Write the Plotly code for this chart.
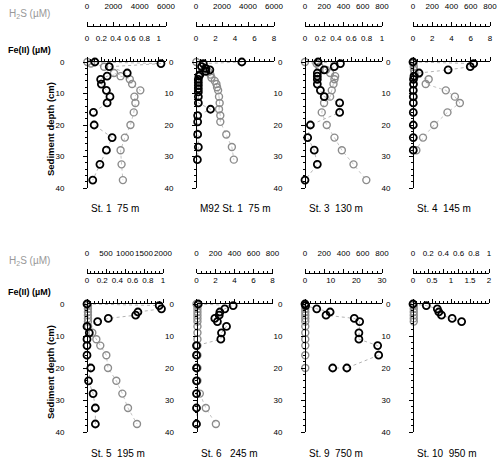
import numpy as np
import plotly.graph_objs as go

# ---- data (depth in cm, concentrations in uM) ----

# St. 1  75 m
st1_fe_depth = [0, 0.5, 1.5, 3.5, 4.5, 5.5, 7, 9, 11, 13, 16, 20, 24, 28, 32.5, 37.5]
st1_fe = [0.11, 1.03, 0.31, 0.56, 0.28, 0.19, 0.20, 0.27, 0.32, 0.28, 0.09, 0.10, 0.35, 0.27, 0.18, 0.08]
st1_h2s_depth = [0, 0.5, 1.5, 3.5, 4.5, 5.5, 7, 9, 11, 13, 16, 20, 24, 28, 32.5, 37.5]
st1_h2s = [30, 300, 1300, 2050, 2550, 3250, 3425, 4050, 3600, 3675, 3550, 3300, 2875, 2550, 2625, 2725]

# M92 St. 1  75 m
m92_fe_depth = [0, 0.5, 1.5, 2, 2.5, 3, 4, 4.5, 5.5, 6.5, 7.5, 8.5, 9.5, 11, 13, 15, 17, 19, 23, 27, 31]
m92_fe = [4.7, 0.75, 0.57, 1.0, 1.42, 1.0, 0.4, 0.3, 0.24, 0.24, 0.24, 0.24, 0.24, 0.24, 0.24, 1.49, 0.17, 0.17, 0.17, 0.24, 0.14]
m92_h2s_depth = [0, 1, 2, 3, 4, 5, 6, 7, 8, 9, 11, 13, 15, 17, 19, 23, 27, 31]
m92_h2s = [30, 300, 680, 940, 1110, 1190, 1440, 1570, 1620, 1700, 1770, 1820, 1770, 1870, 1870, 2330, 2760, 2910]

# St. 3  130 m
st3_fe_depth = [0, 0.5, 1.5, 2.5, 3.5, 4.5, 5.5, 7, 9, 11, 13, 16, 20, 24, 28, 32.5, 37.5]
st3_fe = [0.17, 0.46, 0.38, 0.25, 0.16, 0.16, 0.16, 0.16, 0.20, 0.25, 0.45, 0.45, 0.07, 0.035, 0.12, 0.16, 0.0]
st3_h2s_depth = [0, 0.5, 1.5, 2.5, 3.5, 4.5, 5.5, 7, 9, 11, 13, 16, 20, 24, 28, 32.5, 37.5]
st3_h2s = [0, 120, 150, 220, 261, 313, 306, 296, 278, 261, 198, 174, 226, 306, 383, 504, 637]

# St. 4  145 m
st4_fe_depth = [0, 0.5, 1.5, 2.5, 3.5, 4.5, 5.5, 7, 9, 11, 13, 16, 20, 24, 28]
st4_fe = [0, 6.3, 5.95, 3.65, 0.63, 0.1, 0.05, 0.05, 0.03, 0.03, 0.03, 0.03, 0.03, 0.03, 0.03]
st4_h2s_depth = [0, 0.5, 1.5, 2.5, 3.5, 4.5, 5.5, 7, 9, 11, 13, 16, 20, 24, 28]
st4_h2s = [0, 5, 8, 10, 15, 20, 163, 132, 341, 435, 487, 358, 219, 104, 35]

# St. 5  195 m
st5_fe_depth = [0, 0.5, 1.5, 2.5, 3.5, 4.5, 5.5, 7, 9, 11, 13, 16, 20, 24, 28, 32.5, 37.5]
st5_fe = [0, 0.95, 0.98, 0.67, 0.64, 0.28, 0.14, 0.0, 0.03, 0.0, 0.0, 0.0, 0.05, 0.02, 0.08, 0.11, 0.11]
st5_h2s_depth = [0, 0.5, 1.5, 2.5, 3.5, 4.5, 5.5, 7, 9, 11, 13, 16, 20, 24, 28, 32.5, 37.5]
st5_h2s = [0, 25, 25, 25, 25, 25, 25, 30, 140, 246, 350, 509, 553, 772, 930, 1079, 1316]

# St. 6  245 m
st6_fe_depth = [0, 0.5, 1.5, 2.5, 3.5, 4.5, 5.5, 7, 9, 11, 13, 16, 20, 24, 28, 32.5, 37.5]
st6_fe = [0.18, 3.86, 2.98, 2.46, 2.39, 1.93, 2.2, 3.16, 2.63, 2.56, 0.0, 0.0, 0.0, 0.0, 0.0, 0.0, 0.0]
st6_h2s_depth = [0, 0.5, 1.5, 2.5, 3.5, 4.5, 5.5, 7, 9, 11, 13, 16, 20, 24, 28, 32.5, 37.5]
st6_h2s = [0, 10, 10, 10, 10, 10, 10, 10, 10, 10, 10, 10, 10, 10, 35, 98, 204]

# St. 9  750 m
st9_fe_depth = [0, 0.5, 1.5, 2.5, 3.5, 4.5, 5.5, 9, 11, 13, 16, 20, 20]
st9_fe = [0, 0.26, 4.57, 9.78, 8.2, 19.2, 21.3, 21.0, 21.0, 28.3, 28.7, 16.3, 10.8]
st9_h2s_depth = [0, 0.5, 1.5, 2.5, 3.5, 4.5, 5.5, 7, 9, 11, 13, 16, 20]
st9_h2s = [0, 3, 3, 3, 3, 3, 3, 3, 3, 3, 3, 3, 3]

# St. 10  950 m
st10_fe_depth = [0, 0.5, 1.5, 2.5, 3.5, 4.5, 5.5]
st10_fe = [0, 0.35, 0.64, 0.68, 0.75, 1.03, 1.28]
st10_h2s_depth = [0, 0.5, 1.5, 2.5, 3.5, 4.5, 5.5]
st10_h2s = [0, 0.01, 0.01, 0.01, 0.01, 0.01, 0.01]

titles = ["St. 1  75 m", "M92 St. 1  75 m", "St. 3  130 m", "St. 4  145 m",
          "St. 5  195 m", "St. 6   245 m", "St. 9  750 m", "St. 10  950 m"]
fe_depths = [st1_fe_depth, m92_fe_depth, st3_fe_depth, st4_fe_depth,
             st5_fe_depth, st6_fe_depth, st9_fe_depth, st10_fe_depth]
fe_values = [st1_fe, m92_fe, st3_fe, st4_fe, st5_fe, st6_fe, st9_fe, st10_fe]
h2s_depths = [st1_h2s_depth, m92_h2s_depth, st3_h2s_depth, st4_h2s_depth,
              st5_h2s_depth, st6_h2s_depth, st9_h2s_depth, st10_h2s_depth]
h2s_values = [st1_h2s, m92_h2s, st3_h2s, st4_h2s, st5_h2s, st6_h2s, st9_h2s, st10_h2s]

# axis ticks (major labels)
fe_ticks = [[0, 0.2, 0.4, 0.6, 0.8, 1], [0, 2, 4, 6, 8], [0, 0.2, 0.4, 0.6, 0.8, 1], [0, 2, 4, 6, 8],
            [0, 0.2, 0.4, 0.6, 0.8, 1], [0, 2, 4, 6, 8], [0, 10, 20, 30], [0, 0.5, 1, 1.5, 2]]
h2s_ticks = [[0, 2000, 4000, 6000], [0, 2000, 4000, 6000], [0, 200, 400, 600, 800], [0, 200, 400, 600, 800],
             [0, 500, 1000, 1500, 2000], [0, 200, 400, 600, 800], [0, 200, 400, 600, 800],
             [0, 0.2, 0.4, 0.6, 0.8, 1]]
depth_ticks = [0, 10, 20, 30, 40]

# axis extents and minor tick steps
fe_max = [1.1, 8, 1, 8, 1, 8, 30, 2]
fe_minor = [0.05, 0.5, 0.05, 0.5, 0.05, 0.5, 2, 0.1]
h2s_max = [6000, 6000, 800, 800, 2000, 800, 800, 1]
h2s_minor = [500, 500, 50, 50, 100, 50, 50, 0.05]

# ---- geometry (pixels) ----
W, H = 500, 461
def fx(px):
	return px / W
def fy(py):
	return 1 - py / H

col_x0 = [87, 196, 305, 413, 87, 196.5, 305, 413]
col_w = [79, 78, 77, 77, 76, 76, 77, 76]
# (depth 0 line, depth 40 line, H2S axis line, title y)
rows = [(62, 188, 25.5, 208), (304, 432, 272.5, 453)]

FONT = "Liberation Sans, Arial, sans-serif"
GRAY = "#8c8c8c"

data = []
layout = go.Layout(
	width=W, height=H,
	margin=dict(l=0, r=0, t=0, b=0, autoexpand=False),
	paper_bgcolor="white", plot_bgcolor="white",
	showlegend=False,
	font=dict(family=FONT, size=8, color="black"),
)
annotations = []

for i in range(8):
	r = rows[i // 4]
	x0 = col_x0[i]
	dom = [fx(x0), fx(x0 + col_w[i])]
	hx = "x%d" % (2 * i + 1)
	fxax = "x%d" % (2 * i + 2)
	yax = "y%d" % (i + 1)

	# H2S (base axis, floating above)
	layout["xaxis%d" % (2 * i + 1)] = dict(
		domain=dom, range=[0, h2s_max[i]], anchor="free", position=fy(r[2]), side="top",
		showline=True, linecolor="black", linewidth=1, ticks="outside", ticklen=4,
		tickcolor="black", tickvals=h2s_ticks[i], showgrid=False, zeroline=False,
		automargin=False, tickangle=0,
		tickfont=dict(size=8, color="black"), ticklabelstandoff=9,
		minor=dict(tickvals=list(np.arange(0, h2s_max[i] + 1e-9, h2s_minor[i])),
			ticks="outside", ticklen=2, tickcolor="black"),
	)
	# Fe(II) (overlaying, on the depth-0 line)
	layout["xaxis%d" % (2 * i + 2)] = dict(
		overlaying=hx, anchor=yax, side="top", range=[0, fe_max[i]],
		showline=True, linecolor="black", linewidth=1, ticks="outside", ticklen=4,
		tickcolor="black", tickvals=fe_ticks[i], showgrid=False, zeroline=False,
		automargin=False, tickangle=0,
		tickfont=dict(size=8, color="black"), ticklabelstandoff=13,
		minor=dict(tickvals=list(np.arange(0, fe_max[i] + 1e-9, fe_minor[i])),
			ticks="outside", ticklen=2, tickcolor="black"),
	)
	layout["yaxis%d" % (i + 1)] = dict(
		domain=[fy(r[1]), fy(r[0])], range=[40, 0], anchor="free", position=dom[0],
		showline=True, linecolor="black", linewidth=1, ticks="outside", ticklen=4,
		tickcolor="black", tickvals=depth_ticks, showgrid=False, zeroline=False,
		automargin=False,
		tickfont=dict(size=8, color="black"), ticklabelstandoff=17,
		minor=dict(tickvals=list(range(0, 41, 2)), ticks="outside", ticklen=2, tickcolor="black"),
	)

	data.append(go.Scatter(
		x=h2s_values[i], y=h2s_depths[i], xaxis=hx, yaxis=yax,
		mode="lines+markers", cliponaxis=False,
		line=dict(color="#c4c4c4", width=1, dash="dot"),
		marker=dict(symbol="circle-open", size=7, color=GRAY, line=dict(width=1.4, color=GRAY)),
	))
	data.append(go.Scatter(
		x=fe_values[i], y=fe_depths[i], xaxis=fxax, yaxis=yax,
		mode="lines+markers", cliponaxis=False,
		line=dict(color="#b4b4b4", width=1, dash="dot"),
		marker=dict(symbol="circle-open", size=7, color="black", line=dict(width=1.8, color="black")),
	))

	annotations.append(dict(
		text=titles[i], x=fx(x0 + 2), y=fy(r[3]), xref="paper", yref="paper",
		xanchor="left", yanchor="middle", showarrow=False, font=dict(size=10),
	))

for r in rows:
	annotations.append(dict(
		text="H<sub>2</sub>S (µM)", x=fx(7), y=fy(r[2] - 12), xref="paper", yref="paper",
		xanchor="left", yanchor="middle", showarrow=False, font=dict(size=10, color="#999999"),
	))
	annotations.append(dict(
		text="<b>Fe(II) (µM)</b>", x=fx(6), y=fy(r[0] - 12), xref="paper", yref="paper",
		xanchor="left", yanchor="middle", showarrow=False, font=dict(size=9),
	))
	annotations.append(dict(
		text="<b>Sediment depth (cm)</b>", x=fx(50), y=fy((r[0] + r[1]) / 2 + 4), xref="paper", yref="paper",
		xanchor="center", yanchor="middle", showarrow=False, textangle=-90, font=dict(size=9.5),
	))

layout["annotations"] = annotations

fig = go.Figure(data=data, layout=layout)
# page has a default 8px body margin; drop it so the figure sits at the window corner
fig.write_html("out.html", config={"displayModeBar": False},
	post_script="document.body.style.margin='0';")
